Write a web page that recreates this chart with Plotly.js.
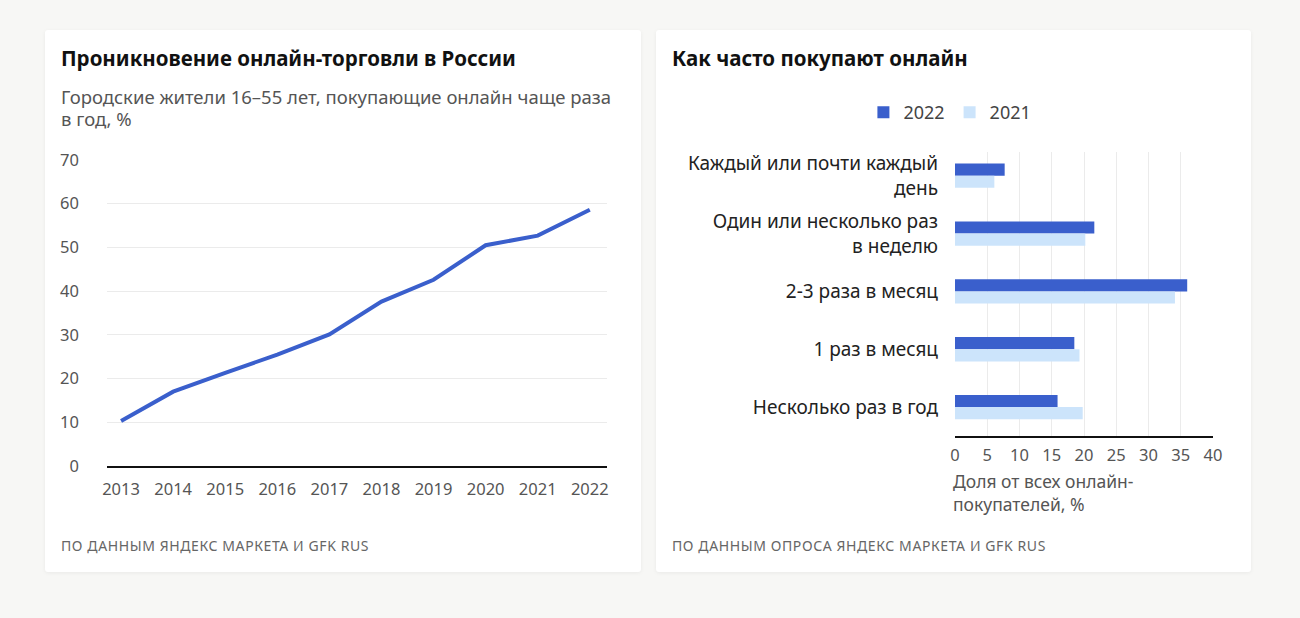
<!DOCTYPE html>
<html>
<head>
<meta charset="utf-8">
<script src="https://cdn.plot.ly/plotly-3.0.1.min.js"></script>
<style>
  body { margin: 0; background: #f7f7f5; font-family: "Noto Sans", sans-serif; }
  .card { position: absolute; top: 30px; height: 542px; background: #fff; border-radius: 3px;
          box-shadow: 0 1px 4px rgba(0,0,0,0.06); }
  .title { position: absolute; left: 16px; top: 14px; font-size: 20.5px; font-weight: 700; color: #111; }
  .subtitle { position: absolute; left: 16px; top: 56px; width: 560px; font-size: 18.5px; line-height: 22px; color: #555; }
  .source { position: absolute; left: 16px; top: 506px; font-size: 14px; color: #666; letter-spacing: 0.6px; }
  .chart { position: absolute; left: 0; }
</style>
</head>
<body>
<div class="card" style="left:45px; width:596px;">
  <div class="title">Проникновение онлайн-торговли в России</div>
  <div class="subtitle">Городские жители 16–55 лет, покупающие онлайн чаще раза в год, %</div>
  <div id="line-chart" class="chart" style="top:110px; width:596px; height:380px;"></div>
  <div class="source">ПО ДАННЫМ ЯНДЕКС МАРКЕТА И GFK RUS</div>
</div>
<div class="card" style="left:656px; width:595px;">
  <div class="title">Как часто покупают онлайн</div>
  <div id="bar-chart" class="chart" style="top:40px; width:595px; height:460px;"></div>
  <div class="source">ПО ДАННЫМ ОПРОСА ЯНДЕКС МАРКЕТА И GFK RUS</div>
</div>
<script>
const years = [2013, 2014, 2015, 2016, 2017, 2018, 2019, 2020, 2021, 2022];
const penetration = [10.3, 17, 21.3, 25.5, 30.1, 37.6, 42.6, 50.5, 52.7, 58.6];

const frequency = [
  'Каждый или почти каждый<br>день',
  'Один или несколько раз<br>в неделю',
  '2-3 раза в месяц',
  '1 раз в месяц',
  'Несколько раз в год'
];
const share2022 = [7.7, 21.6, 36.0, 18.5, 15.9];
const share2021 = [6.1, 20.2, 34.1, 19.3, 19.8];

const blue = '#3a5fcc';
const lightBlue = '#cce4fb';
const font = 'Noto Sans, sans-serif';
const tickFont = { family: font, size: 16.5, color: '#555' };

Plotly.newPlot('line-chart', [{
  x: years,
  y: penetration,
  type: 'scatter',
  mode: 'lines',
  line: { color: blue, width: 4 },
  hoverinfo: 'skip'
}], {
  margin: { l: 62, r: 34, t: 20, b: 54 },
  paper_bgcolor: 'rgba(0,0,0,0)',
  plot_bgcolor: 'rgba(0,0,0,0)',
  showlegend: false,
  xaxis: {
    range: [2012.73, 2022.33], dtick: 1, showgrid: false, zeroline: false,
    showline: true, linecolor: '#111', linewidth: 2,
    tickfont: tickFont, ticks: '', ticklabelstandoff: 7
  },
  yaxis: {
    range: [0, 70], dtick: 10, gridcolor: '#ebebeb', zeroline: false,
    tickfont: tickFont, ticks: '', ticklabelstandoff: 27
  }
}, { displayModeBar: false, staticPlot: true });

Plotly.newPlot('bar-chart', [
  { y: frequency, x: share2022, name: '2022', type: 'bar', orientation: 'h', marker: { color: blue }, hoverinfo: 'skip' },
  { y: frequency, x: share2021, name: '2021', type: 'bar', orientation: 'h', marker: { color: lightBlue }, hoverinfo: 'skip' }
], {
  margin: { l: 299, r: 38, t: 82, b: 94 },
  paper_bgcolor: 'rgba(0,0,0,0)',
  plot_bgcolor: 'rgba(0,0,0,0)',
  barmode: 'group',
  bargap: 0.58,
  bargroupgap: 0,
  showlegend: true,
  legend: {
    orientation: 'h', x: -0.355, xanchor: 'left', y: 1.204, yanchor: 'top',
    font: { family: font, size: 18, color: '#444' }
  },
  xaxis: {
    range: [0, 40], dtick: 5, gridcolor: '#ebebeb', zeroline: false,
    showline: true, linecolor: '#111', linewidth: 2,
    tickfont: tickFont, ticks: '', ticklabelstandoff: 3
  },
  yaxis: {
    type: 'category', range: [4.5, -0.41], showgrid: false, zeroline: false,
    tickfont: { family: font, size: 19, color: '#222' }, ticks: '', ticklabelstandoff: 16
  },
  annotations: [{
    text: 'Доля от всех онлайн-<br>покупателей, %',
    xref: 'paper', yref: 'paper', x: -0.015, y: -0.11, xanchor: 'left', yanchor: 'top',
    align: 'left', showarrow: false,
    font: { family: font, size: 17.5, color: '#555' }
  }]
}, { displayModeBar: false, staticPlot: true });
</script>
</body>
</html>
